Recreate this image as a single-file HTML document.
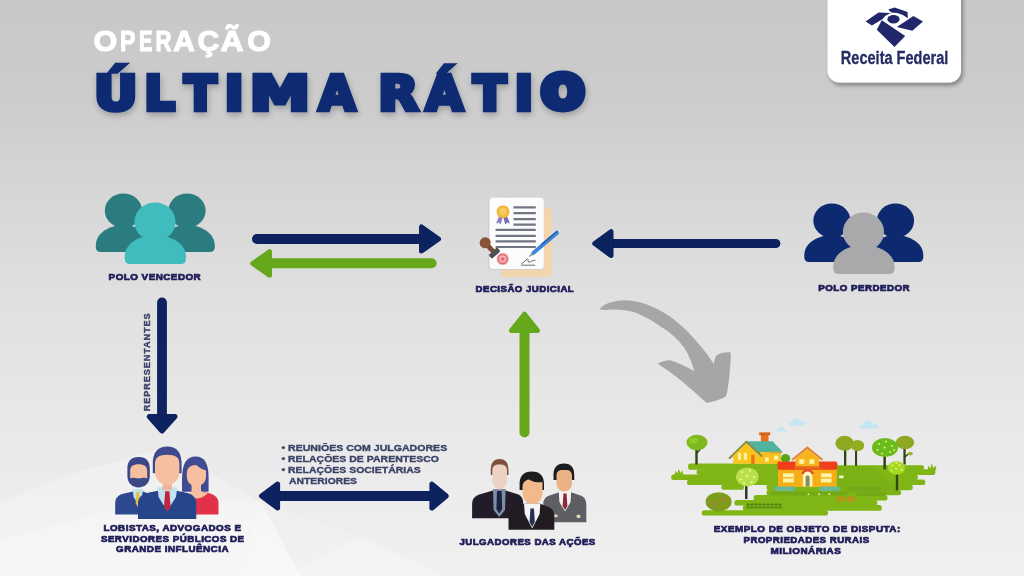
<!DOCTYPE html>
<html lang="pt-BR">
<head>
<meta charset="utf-8">
<title>Operação Última Rátio</title>
<style>
  html, body { margin: 0; padding: 0; }
  body { width: 1024px; height: 576px; overflow: hidden; background: #dedede; }
  #stage { position: relative; width: 1024px; height: 576px; overflow: hidden;
    background: linear-gradient(180deg, #c8c8c8 0%, #cccccc 17%, #d7d7d7 35%, #e0e0e0 52%, #e9e9e9 75%, #f0f0f0 100%); }
  svg { position: absolute; left: 0; top: 0; display: block; }
  text { font-family: "Liberation Sans", "DejaVu Sans", sans-serif; font-weight: bold; }
  .ttl { font-family: "DejaVu Sans", "Liberation Sans", sans-serif; }
  .lbl { font-size: 9.3px; letter-spacing: 0.45px; fill: #1e1c58; stroke: #1e1c58; stroke-width: 0.7px; paint-order: stroke; }
  .bul { font-size: 9.2px; fill: #3a4266; stroke: #3a4266; stroke-width: 0.35px; paint-order: stroke; }
</style>
</head>
<body>
<div id="stage">
<svg width="1024" height="576" viewBox="0 0 1024 576">
  <defs>
    <filter id="soft" x="0" y="0" width="1024" height="576" filterUnits="userSpaceOnUse"><feGaussianBlur stdDeviation="0.55"/></filter>
    <filter id="tshadow" x="-5%" y="-25%" width="110%" height="170%">
      <feGaussianBlur in="SourceAlpha" stdDeviation="3.2" result="b"/>
      <feOffset in="b" dx="1" dy="3" result="o"/>
      <feComponentTransfer in="o" result="s"><feFuncA type="linear" slope="0.24"/></feComponentTransfer>
      <feMerge><feMergeNode in="s"/><feMergeNode in="SourceGraphic"/></feMerge>
    </filter>
    <filter id="boxshadow" x="-10%" y="-10%" width="125%" height="130%">
      <feGaussianBlur in="SourceAlpha" stdDeviation="2" result="b"/>
      <feOffset in="b" dx="2" dy="2.5" result="o"/>
      <feComponentTransfer in="o" result="s"><feFuncA type="linear" slope="0.36"/></feComponentTransfer>
      <feMerge><feMergeNode in="s"/><feMergeNode in="SourceGraphic"/></feMerge>
    </filter>
    <!-- three-person silhouette group; origin = top-left of bounding box (117 x 71) -->
    <g id="pback">
        <ellipse cx="26.6" cy="17.2" rx="18.6" ry="17.2"/>
        <path d="M4,58.6 Q-1,58.6 -1,53.6 V52 C-1,42 7,35.5 18,32.5 H35 C45,35.5 53,42 53,52 V53.6 Q53,58.6 48,58.6 Z"/>
        <ellipse cx="90.2" cy="17.2" rx="18.6" ry="17.2"/>
        <path d="M68.8,58.6 Q63.8,58.6 63.8,53.6 V52 C63.8,42 71.8,35.5 81.8,32.5 H98.8 C109.8,35.5 118,42 118,52 V53.6 Q118,58.6 113,58.6 Z"/>
    </g>
    <g id="pfront">
        <ellipse cx="58.2" cy="28.4" rx="20.6" ry="19.3"/>
        <path d="M33.5,70.6 Q28,70.6 28,65.1 V63 C28,52 37,46 47,43 H69.4 C79.4,46 89.2,52 89.2,63 V65.1 Q89.2,70.6 83.7,70.6 Z"/>
    </g>
  </defs>

  <g id="all" filter="url(#soft)">
  <!-- faint background facets -->
  <g>
    <polygon points="0,503 58,478 165,447 262,503 300,576 0,576" fill="#ffffff" opacity="0.28"/>
    <polygon points="0,540 150,500 262,503 300,576 0,576" fill="#ffffff" opacity="0.22"/>
    <polygon points="285,576 359,536 445,576" fill="#ffffff" opacity="0.3"/>
    <polygon points="262,503 359,536 285,576 240,576" fill="#ffffff" opacity="0.12"/>
  </g>

  <!-- TITLE -->
  <g id="title">
    <text y="51.2" font-size="29.2" fill="#ffffff" stroke="#ffffff" stroke-width="1.1"><tspan x="93.4" textLength="23.7" lengthAdjust="spacingAndGlyphs">O</tspan><tspan x="120.0" textLength="15.5" lengthAdjust="spacingAndGlyphs">P</tspan><tspan x="138.9" textLength="13.4" lengthAdjust="spacingAndGlyphs">E</tspan><tspan x="155.6" textLength="16.0" lengthAdjust="spacingAndGlyphs">R</tspan><tspan x="173.3" textLength="21.7" lengthAdjust="spacingAndGlyphs">A</tspan><tspan x="197.6" textLength="21.7" lengthAdjust="spacingAndGlyphs">Ç</tspan><tspan x="220.4" textLength="23.1" lengthAdjust="spacingAndGlyphs">Ã</tspan><tspan x="247.2" textLength="23.6" lengthAdjust="spacingAndGlyphs">O</tspan></text>
    <text class="ttl" y="110.4" font-size="48.8" fill="#0c2a72" stroke="#0c2a72" stroke-width="4.6" stroke-linejoin="miter" filter="url(#tshadow)"><tspan x="94.0" textLength="43.6" lengthAdjust="spacingAndGlyphs">Ú</tspan><tspan x="144.2" textLength="30.7" lengthAdjust="spacingAndGlyphs">L</tspan><tspan x="184.2" textLength="32.2" lengthAdjust="spacingAndGlyphs">T</tspan><tspan x="224.6" textLength="19.2" lengthAdjust="spacingAndGlyphs">I</tspan><tspan x="249.7" textLength="60.3" lengthAdjust="spacingAndGlyphs">M</tspan><tspan x="318.7" textLength="36.6" lengthAdjust="spacingAndGlyphs">A</tspan> <tspan x="378.3" textLength="40.1" lengthAdjust="spacingAndGlyphs">R</tspan><tspan x="425.7" textLength="37.3" lengthAdjust="spacingAndGlyphs">Á</tspan><tspan x="473.2" textLength="32.9" lengthAdjust="spacingAndGlyphs">T</tspan><tspan x="514.4" textLength="18.8" lengthAdjust="spacingAndGlyphs">I</tspan><tspan x="542.1" dy="-2" font-size="44" stroke-width="8" textLength="41.6" lengthAdjust="spacingAndGlyphs">O</tspan></text>
  </g>

  <!-- LOGO -->
  <g id="logo">
    <path d="M827.5,-10 H961 V70.5 a12,12 0 0 1 -12,12 H839.5 a12,12 0 0 1 -12,-12 Z" fill="#ffffff" filter="url(#boxshadow)"/>
    <g fill="#21286a">
      <polygon points="865.6,21.4 878.5,12.5 890.6,12.9 885.1,15.9 882.7,18.9 871.9,25.5"/>
      <polygon points="888.2,9.4 894.5,7.5 907.6,11.9 907.8,18.2 902.9,15 897.3,12.9 891.2,12.5"/>
      <polygon points="896.8,27 913.4,16.1 923,21.4 912.3,30.8"/>
      <polygon points="876.8,29.8 881.8,20.2 905.2,36.1 894.5,46.9"/>
      <ellipse cx="893.5" cy="19.2" rx="6.1" ry="4.2"/>
    </g>
    <text x="840.8" y="64.2" font-size="17.6" fill="#272b63" stroke="#272b63" stroke-width="0.3" textLength="107.6" lengthAdjust="spacingAndGlyphs">Receita Federal</text>
  </g>

  <!-- ARROWS -->
  <g id="arrows" stroke-linecap="round" stroke-linejoin="round">
    <!-- navy right arrow -->
    <line x1="257" y1="239" x2="425" y2="239" stroke="#07225e" stroke-width="10"/>
    <polygon points="421.5,227 421.5,251 438.5,239" fill="#07225e" stroke="#07225e" stroke-width="5"/>
    <!-- green left arrow -->
    <line x1="268" y1="263.2" x2="431.6" y2="263.2" stroke="#66a81b" stroke-width="10"/>
    <polygon points="269.5,251.7 269.5,275.2 252.8,263.5" fill="#66a81b" stroke="#66a81b" stroke-width="5"/>
    <!-- navy left arrow (from polo perdedor) -->
    <line x1="610" y1="243.5" x2="775.8" y2="243.5" stroke="#07225e" stroke-width="9.2"/>
    <polygon points="611,231.7 611,255.5 594.8,243.5" fill="#07225e" stroke="#07225e" stroke-width="5"/>
    <!-- navy down arrow -->
    <line x1="162" y1="302.5" x2="162" y2="418" stroke="#07225e" stroke-width="9.8"/>
    <polygon points="149.2,416.5 175,416.5 162,431" fill="#07225e" stroke="#07225e" stroke-width="5"/>
    <!-- green up arrow -->
    <line x1="524.5" y1="432.4" x2="524.5" y2="330" stroke="#66a81b" stroke-width="10"/>
    <polygon points="511.4,330.6 537.5,330.6 524.5,314.2" fill="#66a81b" stroke="#66a81b" stroke-width="5"/>
    <!-- navy double arrow -->
    <line x1="276" y1="496" x2="432" y2="496" stroke="#07225e" stroke-width="9.8"/>
    <polygon points="277.6,484.1 277.6,508.1 261.5,496" fill="#07225e" stroke="#07225e" stroke-width="5"/>
    <polygon points="431.9,484.1 431.9,508.1 446.2,496" fill="#07225e" stroke="#07225e" stroke-width="5"/>
  </g>

  <!-- grey curved arrow -->
  <path id="curve" fill="#a6a6a6" d="M599.4,309.3 C604,304 612,300.8 622,300.4 C632,300 643,302.5 654,307.5 C665,312.5 676,320 687,331 C697,341 706,352 713.6,363.8 C714.5,360.5 715,357.5 716.5,355.3 C720,353 726,352 730.6,352.4 C731,360 730,372 728.5,383 C727.5,390 727,394 725.7,396.6 C720,400 712,402.5 706.3,402.7 C700,397 692,390 684,383 C675,375.5 666,369 657.7,363.8 C661,361.5 666,360.2 669.9,360.2 C678,362.5 687,367 694.2,371.1 C692,363 689,355 684.5,348 C678,339 670,332 660.2,326.2 C652,320.5 644,316 635.9,312.8 C628,310.3 620,309.4 611.6,309.6 C607,309.9 603,310.3 599.4,309.3 Z"/>

  <!-- POLO VENCEDOR / POLO PERDEDOR silhouettes -->
  <g id="polos">
    <use href="#pback" x="96.8" y="193.4" fill="#2a7b7f"/>
    <use href="#pfront" x="96.8" y="193.4" fill="#41bcbf"/>
    <use href="#pback" x="805.3" y="203.4" fill="#0c2a70"/>
    <use href="#pfront" x="805.3" y="203.4" fill="#a9a9ab"/>
  </g>

  <!-- DOCUMENT ICON -->
  <g id="doc">
    <rect x="501.2" y="207.6" width="50.3" height="69.4" rx="3.5" fill="#f2d5ac"/>
    <rect x="488.2" y="198.4" width="55.6" height="71.4" rx="3.5" fill="#c9ccd2"/>
    <rect x="489.4" y="197.7" width="54.4" height="71.3" rx="3.5" fill="#fcfcfd"/>
    <!-- ribbon + medal -->
    <polygon points="499.5,215 496,223.6 498.8,222.6 500.8,224.4 503,216" fill="#8f7fc8"/>
    <polygon points="506.5,215 510,223.6 507.2,222.6 505.2,224.4 503,216" fill="#7c6bbd"/>
    <circle cx="503" cy="211.6" r="6.4" fill="#f3b43a"/>
    <circle cx="503" cy="211.6" r="3.9" fill="#f8cc5a"/>
    <!-- text lines -->
    <g stroke="#6f7683" stroke-width="2.2">
      <path d="M513.5,207.3 H535.8 M513.5,213.2 H535.8 M513.5,219.1 H535.8 M513.5,224.6 H535.8"/>
      <path d="M495.6,229.9 H535.8 M495.6,235.8 H535.8 M495.6,241.4 H535.8 M495.6,247 H535.8"/>
    </g>
    <!-- red seal -->
    <circle cx="502.7" cy="259" r="6.2" fill="#f2b6b6"/>
    <circle cx="502.7" cy="259" r="4.4" fill="none" stroke="#e4656c" stroke-width="1.5"/>
    <circle cx="502.7" cy="259" r="1.8" fill="#e4656c"/>
    <!-- rubber stamp -->
    <g transform="rotate(-42 490 248)">
      <rect x="484.2" y="252.2" width="11.6" height="5.2" rx="1.6" fill="#4c4f57"/>
      <rect x="487.6" y="244" width="4.8" height="9" fill="#7b4a36"/>
      <ellipse cx="490" cy="240.8" rx="5.6" ry="5.4" fill="#8a5238"/>
    </g>
    <!-- signature -->
    <path d="M521.5,263.8 C524,262.6 526,259.4 527.6,259 C529,258.8 527,262.6 529,262.2 C531,261.8 532,260.4 535.5,260.2 M521,265.2 H535.2" fill="none" stroke="#555a66" stroke-width="0.9"/>
    <!-- pen -->
    <g transform="rotate(-40.5 545 243)">
      <rect x="528" y="241.1" width="34.5" height="3.9" rx="1.9" fill="#3b86dc"/>
      <rect x="541" y="241.1" width="21.5" height="1.5" rx="0.7" fill="#2a5fb0"/>
      <polygon points="528.6,241.2 528.6,244.9 523.2,243.05" fill="#9aa3b2"/>
    </g>
  </g>

  <!-- LOBBYISTS ICON -->
  <g id="lobby">
    <!-- left man -->
    <path d="M115.2,514.5 V503 C115.2,497.5 119,494.6 124,493.6 L133,491.4 H143 L147,493 V514.5 Z" fill="#2f4a8f"/>
    <polygon points="132.6,489 143,489 142,497 137.8,503.5 133.6,497" fill="#c3e1ef"/>
    <polygon points="136.4,492 139.2,492 140.2,503 137.8,507 135.6,503" fill="#e6c13c"/>
    <path d="M127.4,470 C127,461 131,457 138.6,457 C146.4,457 150.2,461 149.8,470 V476 C149.8,483 145,487.4 138.6,487.4 C132.2,487.4 127.4,483 127.4,476 Z" fill="#3b4687"/>
    <path d="M130.2,471 C130.2,466.2 133,464.2 138.6,464.2 C144.2,464.2 147.2,466.2 147.2,471 V478.4 C144.6,477 142.2,478.4 138.6,478.4 C135,478.4 132.6,477 130.2,478.4 Z" fill="#f5bfa0"/>
    <!-- woman -->
    <path d="M192.7,514.5 V500 C195,495 199,493 203,492.4 H206.4 C212,493.2 218.5,496.4 218.5,503 V514.5 Z" fill="#e23348"/>
    <path d="M182,480 C182,464 186,456.5 195.6,456.5 C205,456.5 208.6,464 208.6,478 V491.7 H182 Z" fill="#404c94"/>
    <path d="M191.5,484 H201 V491 C203,492.4 205.6,493 207.6,493.4 C204,497 200,498.6 196.2,498.6 C192.8,498.6 190,497 188.2,494.4 C189.8,493.6 191.5,492.6 191.5,491 Z" fill="#f5bfa0"/>
    <path d="M186.8,474 C186.8,468 190,465 196.4,465 C200,468.4 203.4,470 206,470.4 V476 C206,482.4 202,486 196.4,486 C190.8,486 186.8,482.4 186.8,476 Z" fill="#f5bfa0"/>
    <!-- center man -->
    <path d="M138,519 V503.5 C138,497 142.4,494 148,492.8 L159,490.4 H175.6 L186.4,492.8 C192,494 196.3,497 196.3,503.5 V519 Z" fill="#27458a"/>
    <polygon points="157.4,487.2 177.2,487.2 176,497 167.3,511 158.6,497" fill="#c3e1ef"/>
    <rect x="162.6" y="481" width="9.4" height="9.2" fill="#f0b596"/>
    <polygon points="165.2,491.2 169.4,491.2 170.6,507 167.3,511.6 164,507" fill="#c0283c"/>
    <path d="M152.8,466 C152.2,452.6 157.6,446.6 167.2,446.6 C176.8,446.6 182.2,452.6 181.6,466 V473.2 H152.8 Z" fill="#3c4a8c"/>
    <path d="M155,464 C155,457.6 158.6,454.8 167.2,454.8 C175.8,454.8 179.4,457.6 179.4,464 V471.4 C179.4,479.6 174,484.6 167.2,484.6 C160.4,484.6 155,479.6 155,471.4 Z" fill="#f5bfa0"/>
  </g>

  <!-- JUDGES ICON -->
  <g id="judges">
    <!-- left judge -->
    <path d="M472.1,518.2 V504 C472.1,498 476,495.4 481,494 L493,490.4 H505.6 L517,494 C521,495.4 523.3,498 523.3,504 V518.2 Z" fill="#231f2a"/>
    <polygon points="493,489 505.6,489 505,510 499.3,517 493.6,510" fill="#7f8ea6"/>
    <polygon points="497,491 501.6,491 502.2,509 499.3,513.6 496.4,509" fill="#1c2340"/>
    <path d="M490.8,472 C490.4,463 493.6,459.1 499.6,459.1 C505.6,459.1 508.9,463 508.5,472 V475 H490.8 Z" fill="#80503c"/>
    <path d="M492.3,470.4 C492.3,466.4 494.6,464.6 499.6,464.6 C504.6,464.6 507,466.4 507,470.4 V479.6 C507,485.6 503.6,489.4 499.6,489.4 C495.6,489.4 492.3,485.6 492.3,479.6 Z" fill="#edd1c5"/>
    <!-- right judge -->
    <path d="M543.2,522.3 V505 C543.2,498.6 546.4,496.4 551,495 L560,492 H570.4 L579,495 C583.6,496.4 586.3,498.6 586.3,505 V522.3 Z" fill="#5d5e63"/>
    <polygon points="558.7,490.6 571.2,490.6 570.6,502 565,511.6 559.4,502" fill="#f4f2f2"/>
    <polygon points="563.4,493.6 566.6,493.6 567.4,506 565,510 562.6,506" fill="#8b2a3a"/>
    <rect x="551.4" y="514.4" width="6.2" height="2.8" rx="1" fill="#e9d3bd"/>
    <rect x="576.6" y="514.8" width="3.8" height="3.2" rx="1" fill="#e9d3bd"/>
    <path d="M553.5,477 C553,467.6 557,463.6 564,463.6 C571,463.6 574.8,467.6 574.2,477 V480 H553.5 Z" fill="#1e1a1c"/>
    <path d="M556.5,475.6 C556.5,471.6 558.6,469.6 564.2,470 C569.6,469.6 572,471.6 572,475.6 V482.4 C572,488 568.6,491.4 564.2,491.4 C559.8,491.4 556.5,488 556.5,482.4 Z" fill="#eab385"/>
    <!-- middle judge (front) -->
    <path d="M508.5,529.7 V516 C508.5,510 512,507.6 516.6,506.4 L525,503.6 H539.6 L547,506.4 C551.4,507.6 554.3,510 554.3,516 V529.7 Z" fill="#231f22"/>
    <polygon points="524,503.4 540.3,503.4 539.6,514 532.2,528.6 524.8,514" fill="#f4f4f6"/>
    <polygon points="530.4,508.4 534,508.4 534.8,522 532.2,527 529.6,522" fill="#27304d"/>
    <path d="M519.6,486 C519,475.6 523.6,471.4 531.8,471.4 C540,471.4 544.6,475.6 544,486 V490 H519.6 Z" fill="#1e1a1c"/>
    <path d="M522.5,487.4 C522.5,483 524.6,480 529,479.4 C533,482 538,482.6 542.5,482 V492.6 C542.5,499.6 538,503.9 532.5,503.9 C527,503.9 522.5,499.6 522.5,492.6 Z" fill="#f2b98b"/>
  </g>

  <!-- FARM SCENE -->
  <g id="farm">
    <!-- clouds -->
    <g fill="#c6e6f4">
      <path d="M789,425.6 a3.2,3.2 0 0 1 3.4,-3.8 a4.6,4.6 0 0 1 8.6,-0.6 a3,3 0 0 1 3.6,4.4 Z"/>
      <path d="M860,428.6 a3.4,3.4 0 0 1 3.6,-4.2 a5.2,5.2 0 0 1 9.6,-0.8 a3.6,3.6 0 0 1 4.6,5 Z"/>
      <path d="M776,431.4 a2.2,2.2 0 0 1 2.4,-2.6 a3,3 0 0 1 5.6,-0.2 a2,2 0 0 1 2,2.8 Z"/>
    </g>
    <!-- ground strips -->
    <g fill="#80b516">
      <rect x="688.1" y="463.5" width="150" height="6.3" rx="2.6"/>
      <rect x="800" y="465.2" width="124.1" height="4.8" rx="2.4"/>
      <rect x="696.6" y="469.3" width="238.8" height="5.6" rx="2.6"/>
      <rect x="671.2" y="474.4" width="246.7" height="5.6" rx="2.6"/>
      <rect x="687" y="479.5" width="238.3" height="5.6" rx="2.6"/>
      <rect x="721.4" y="484.6" width="22.6" height="5.2" rx="2.6"/>
      <rect x="766.5" y="484.6" width="146.3" height="5.6" rx="2.6"/>
      <rect x="766.5" y="489.7" width="134.5" height="5.6" rx="2.6"/>
      <rect x="753.6" y="494.9" width="133.9" height="5.6" rx="2.6"/>
      <rect x="734.4" y="500" width="142.9" height="5.6" rx="2.6"/>
      <rect x="742.8" y="505.1" width="139" height="5.7" rx="2.6"/>
      <rect x="701.7" y="510.2" width="126.3" height="5.4" rx="2.6"/>
      <!-- tufts -->
      <path d="M674.6,475 l0.8,-4.4 l1.9,2.8 l1.5,-4.6 l1.7,4.4 l1.9,-3 l1,4.8 Z"/>
      <path d="M927.6,470.2 l0.8,-4.6 l1.9,2.8 l1.5,-4.8 l1.7,4.6 l1.9,-3 l1,5 Z"/>
    </g>
    <g fill="#6fa713" opacity="0.8">
      <polygon points="838,466 872,466 902,494 838,494" opacity="0.35"/>
      <rect x="846" y="486.6" width="36" height="4.4" rx="2.2"/>
      <rect x="770" y="491.4" width="78" height="4.2" rx="2.1"/>
      <rect x="856" y="492" width="30" height="4" rx="2"/>
    </g>
    <!-- back trees -->
    <g>
      <path d="M695.3,447 h2.4 V464.4 h-2.4 Z M697,452 l3.4,-3.6 l0.8,0.8 l-3.6,4.2 Z" fill="#2f4414"/>
      <ellipse cx="697" cy="442.5" rx="10.5" ry="7.8" fill="#7db91e"/>
      <ellipse cx="693.6" cy="440.6" rx="4.6" ry="3.2" fill="#8fca2a"/>
      <rect x="844" y="448" width="2.3" height="17.8" fill="#2f4414"/>
      <ellipse cx="844.6" cy="443.2" rx="9.2" ry="7.4" fill="#8ea820"/>
      <rect x="855" y="449" width="2.1" height="16.8" fill="#2f4414"/>
      <ellipse cx="857.5" cy="445.5" rx="6.7" ry="5.6" fill="#93ac22"/>
      <path d="M903.4,447 h2.3 V464.4 h-2.3 Z M905,456 l4,-3.4 l0.7,0.9 l-4.2,4 Z" fill="#2f4414"/>
      <ellipse cx="905" cy="442.5" rx="9.2" ry="6.8" fill="#8ea820"/>
      <ellipse cx="910.4" cy="453.6" rx="2.4" ry="1.9" fill="#9ab52a"/>
      <rect x="883.4" y="452" width="2.5" height="17.4" fill="#2f4414"/>
      <ellipse cx="885" cy="447.5" rx="13" ry="9.6" fill="#6cbb1c"/>
      <g fill="#dcf26a"><circle cx="879" cy="444" r="1"/><circle cx="886" cy="441.6" r="1"/><circle cx="892" cy="446" r="1"/><circle cx="877.6" cy="450" r="1"/><circle cx="884.6" cy="447.4" r="1"/><circle cx="890" cy="452" r="1"/><circle cx="882" cy="453.4" r="1"/><circle cx="894" cy="450" r="1"/></g>
    </g>
    <!-- back house -->
    <g>
      <rect x="760.9" y="433.6" width="7.6" height="12.4" fill="#e8701c"/>
      <rect x="759.2" y="432.4" width="11" height="2.8" fill="#d9601a"/>
      <polygon points="746.2,441.2 772.6,441.2 783,452.2 760,455.2" fill="#4fb3a0"/>
      <rect x="760" y="452" width="20.8" height="11.8" fill="#f8c01e"/>
      <polygon points="728.2,458 746.2,440.4 763,456 761.2,457.4 746.2,443.6 730,459.2" fill="#8d8a4a"/>
      <polygon points="733.3,455.6 746.2,443.2 761.6,457.4 761.6,463.8 733.3,463.8" fill="#f9c41c"/>
      <rect x="737.8" y="452.8" width="3.2" height="7" fill="#fdf0a0"/>
      <rect x="743.8" y="452.8" width="3.2" height="7" fill="#fdf0a0"/>
      <rect x="751.2" y="454.8" width="3.4" height="9" fill="#ef6f1c"/>
      <rect x="765" y="457.4" width="3.6" height="4.2" fill="#fdf0a0"/>
      <rect x="774" y="455.6" width="4.2" height="4.4" fill="#fdf0a0"/>
      <rect x="769.6" y="451.6" width="12.4" height="1.6" fill="#c9a23a"/>
      <ellipse cx="785.5" cy="458.4" rx="4.6" ry="4.4" fill="#5aa51e"/>
    </g>
    <!-- front house -->
    <g>
      <rect x="778" y="468" width="58.7" height="19" fill="#f5ae14"/>
      <rect x="777.4" y="461.5" width="59.8" height="8.2" rx="1.6" fill="#f03d1e"/>
      <polygon points="791.4,459.2 807.3,446.2 823.2,459.2 821.8,460.6 807.3,449 792.8,460.6" fill="#d8843a"/>
      <polygon points="795.5,458.6 807.3,449 819.2,458.6 819.2,466.8 795.5,466.8" fill="#f7b41c"/>
      <rect x="799.2" y="459.2" width="5" height="4.6" fill="#fdf4a8"/>
      <rect x="809.3" y="459.2" width="5" height="4.6" fill="#fdf4a8"/>
      <rect x="794.4" y="466.2" width="26" height="2.6" fill="#e86a1c"/>
      <path d="M801.4,474 a6.2,4.6 0 0 1 12.4,0 Z" fill="#d84a2a"/>
      <path d="M802.8,486.6 V476.4 a4.8,4.8 0 0 1 9.6,0 V486.6 Z" fill="#fdf4c0"/>
      <path d="M805.6,486.6 V477.6 a2,2 0 0 1 4,0 V486.6 Z" fill="#7f8f60"/>
      <rect x="783" y="473.4" width="10.8" height="9" fill="#fdf4a8"/>
      <rect x="783" y="477.2" width="10.8" height="1.3" fill="#f5ae14"/>
      <rect x="820.9" y="473.4" width="10.7" height="9" fill="#fdf4a8"/>
      <rect x="820.9" y="477.2" width="10.7" height="1.3" fill="#f5ae14"/>
      <rect x="774.6" y="486.4" width="20.4" height="4.5" rx="1" fill="#6ab89a"/>
      <rect x="819.2" y="486.4" width="20.3" height="4.5" rx="1" fill="#6ab89a"/>
      <rect x="839" y="475.6" width="4.6" height="2.6" rx="0.8" fill="#f0f6d0"/>
    </g>
    <!-- front trees, bush, fence, flowers -->
    <g>
      <path d="M745,480 h2.5 V499 h-2.5 Z M746.2,484.4 l-4,-4.4 l0.9,-0.8 l3.9,3.8 Z M746.4,484.4 l4.2,-4.6 l0.9,0.8 l-4.2,5 Z" fill="#2f3a1c"/>
      <ellipse cx="747.3" cy="476.8" rx="11.3" ry="9.4" fill="#b9e04c"/>
      <g fill="#ecf9a8"><circle cx="742" cy="472" r="1.1"/><circle cx="750" cy="470.6" r="1.1"/><circle cx="754" cy="477" r="1.1"/><circle cx="740.6" cy="479.6" r="1.1"/><circle cx="747" cy="476" r="1.1"/><circle cx="751.6" cy="482" r="1.1"/><circle cx="744" cy="483" r="1.1"/></g>
      <rect x="895.8" y="472" width="2.4" height="18.4" fill="#2f4414"/>
      <ellipse cx="896.5" cy="468" rx="8.6" ry="6.8" fill="#a6d822"/>
      <g fill="#e8f88a"><circle cx="892.6" cy="465.4" r="0.9"/><circle cx="899.6" cy="465" r="0.9"/><circle cx="896" cy="468.6" r="0.9"/><circle cx="891.6" cy="470.6" r="0.9"/><circle cx="901.6" cy="470" r="0.9"/><circle cx="896.4" cy="463.2" r="0.9"/></g>
      <ellipse cx="718.6" cy="501.8" rx="13" ry="9.6" fill="#7e9c1c"/>
      <ellipse cx="714" cy="503.6" rx="4.6" ry="3.6" fill="#94902a" opacity="0.8"/>
      <ellipse cx="723" cy="499.6" rx="4.2" ry="3.2" fill="#9a8e2c" opacity="0.7"/>
      <path d="M746,504.4 H782 M746,507.2 H782 M748,503 V508.8 M752,503 V508.8 M756,503 V508.8 M760,503 V508.8 M764,503 V508.8 M768,503 V508.8 M772,503 V508.8 M776,503 V508.8 M780,503 V508.8" stroke="#4f7e12" stroke-width="0.9" fill="none"/>
      <g fill="#e6ee5a"><circle cx="808.5" cy="494.3" r="1"/><circle cx="819.2" cy="494.3" r="1"/><circle cx="829.3" cy="494.3" r="1"/></g>
      <ellipse cx="840.8" cy="499" rx="4.2" ry="3" fill="#c48a1c" opacity="0.8"/>
      <ellipse cx="850.8" cy="499" rx="4.2" ry="3" fill="#c48a1c" opacity="0.8"/>
    </g>
  </g>

  <!-- LABELS -->
  <g id="labels">
    <text class="lbl" x="108.6" y="280.2" textLength="92.6" lengthAdjust="spacingAndGlyphs">POLO VENCEDOR</text>
    <text class="lbl" x="475.6" y="291.7" textLength="98.6" lengthAdjust="spacingAndGlyphs">DECISÃO JUDICIAL</text>
    <text class="lbl" x="818.3" y="290.9" textLength="91.7" lengthAdjust="spacingAndGlyphs">POLO PERDEDOR</text>
    <text class="lbl" x="103.5" y="530.5" textLength="138.0" lengthAdjust="spacingAndGlyphs">LOBISTAS, ADVOGADOS E</text>
    <text class="lbl" x="100.9" y="541.6" textLength="143.7" lengthAdjust="spacingAndGlyphs">SERVIDORES PÚBLICOS DE</text>
    <text class="lbl" x="116.0" y="552.4" textLength="113.0" lengthAdjust="spacingAndGlyphs">GRANDE INFLUÊNCIA</text>
    <text class="lbl" x="459.4" y="545.2" textLength="136.4" lengthAdjust="spacingAndGlyphs">JULGADORES DAS AÇÕES</text>
    <text class="lbl" x="713.8" y="531.8" textLength="186.9" lengthAdjust="spacingAndGlyphs">EXEMPLO DE OBJETO DE DISPUTA:</text>
    <text class="lbl" x="743.5" y="543.0" textLength="126.1" lengthAdjust="spacingAndGlyphs">PROPRIEDADES RURAIS</text>
    <text class="lbl" x="770.5" y="553.9" textLength="70.8" lengthAdjust="spacingAndGlyphs">MILIONÁRIAS</text>
    <text class="bul" transform="translate(149.8 411.3) rotate(-90)" x="0" y="0" textLength="98" lengthAdjust="spacing">REPRESENTANTES</text>
    <text class="bul" x="281.4" y="451.0" textLength="165.8" lengthAdjust="spacingAndGlyphs">• REUNIÕES COM JULGADORES</text>
    <text class="bul" x="281.4" y="461.8" textLength="157.6" lengthAdjust="spacingAndGlyphs">• RELAÇÕES DE PARENTESCO</text>
    <text class="bul" x="281.4" y="472.8" textLength="139.4" lengthAdjust="spacingAndGlyphs">• RELAÇÕES SOCIETÁRIAS</text>
    <text class="bul" x="289.1" y="483.7" textLength="67.9" lengthAdjust="spacingAndGlyphs">ANTERIORES</text>
  </g>
  </g>
</svg>
</div>
</body>
</html>
